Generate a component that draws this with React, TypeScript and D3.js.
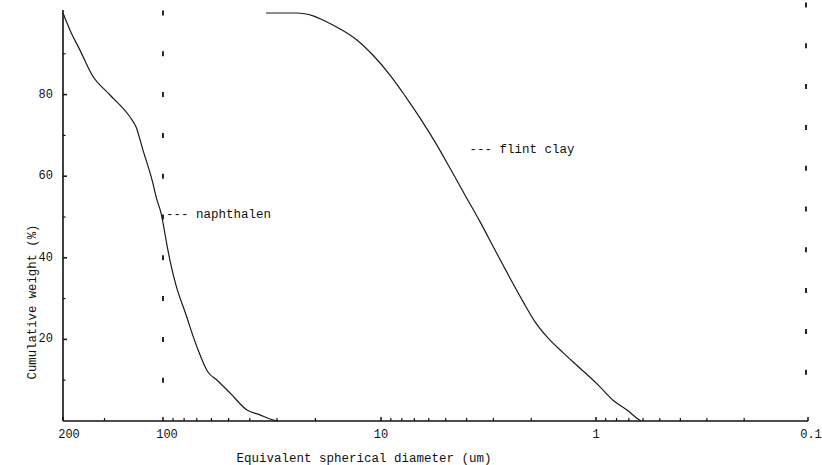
import React from "react";
import * as d3 from "d3";

// Particle size distribution (Sedigraph style): cumulative weight % vs equivalent spherical diameter
const naphthalenDiameter = [200, 190.5, 177.8, 163.5, 144.4, 125.7, 120.6, 114.9, 107.9, 104.3, 101.4, 99.0, 95.9, 91.9, 87.2, 79.2, 69.8, 62.2, 56.5, 49.3, 41.2, 35.9, 32.3, 29.7];
const naphthalenPct = [100, 95.8, 90.9, 84.8, 79.9, 74.5, 72.1, 66.4, 59.1, 54.2, 51.0, 47.3, 43.1, 38.2, 33.3, 26.7, 18.1, 12.0, 10.0, 6.9, 2.7, 1.5, 0.5, 0];

const flintDiameter = [33.7, 28.2, 24.3, 20.5, 17.7, 15.4, 12.9, 10.9, 9.08, 7.73, 6.59, 5.61, 4.78, 4.07, 3.46, 2.95, 2.51, 2.18, 1.92, 1.69, 1.42, 1.19, 0.989, 0.831, 0.706, 0.634, 0.614];
const flintPct = [100, 100, 100, 99.3, 97.8, 96.1, 93.4, 89.7, 84.8, 79.7, 74.3, 68.4, 62.0, 55.4, 48.8, 41.9, 35.0, 29.2, 24.3, 20.6, 16.7, 13.0, 9.1, 5.1, 2.5, 0.5, 0];

const xTickValues = [200, 100, 10, 1, 0.1];
const xTickLabels = ["200", "100", "10", "1", "0.1"];
const yTickValues = [20, 40, 60, 80];
const yMinorValues = [10, 30, 50, 70, 90];
const guideValues = [10, 20, 30, 40, 50, 60, 70, 80, 90, 100];
const guideDiameters = [100, 0.1];

const seriesLabels = ["--- naphthalen", "--- flint clay"];
const labelAnchors = [
  { d: 100, p: 50.5 },
  { d: 4.0, p: 66.5 },
];

const FONT = "'Liberation Mono', 'DejaVu Sans Mono', monospace";
const INK = "#111";

export default function App() {
  const x = d3
    .scaleLog()
    .domain([200, 100, 10, 1, 0.1])
    .range([63, 163, 381, 596, 808]);
  const y = d3.scaleLinear().domain([0, 100]).range([421, 13]);

  const line = d3
    .line<[number, number]>()
    .x((d) => x(d[0]))
    .y((d) => y(d[1]))
    .curve(d3.curveMonotoneX);

  const naph = naphthalenDiameter.map((d, i) => [d, naphthalenPct[i]] as [number, number]);
  const flint = flintDiameter.map((d, i) => [d, flintPct[i]] as [number, number]);

  // log minor ticks: 150 between 200 and 100, then 2..9 per decade
  const minorX: number[] = [150];
  [100, 10, 1].forEach((dec) => {
    for (let k = 2; k <= 9; k++) minorX.push((dec / 10) * k);
  });

  return (
    <svg
      width={822}
      height={465}
      style={{ position: "absolute", left: 0, top: 0, background: "#fff" }}
    >
      {/* dotted vertical guides */}
      {guideDiameters.map((gd, gi) =>
        guideValues.map((v) => (
          <line
            key={`g${gi}-${v}`}
            x1={x(gd) + (gi === 1 ? -2 : 0)}
            x2={x(gd) + (gi === 1 ? -2 : 0)}
            y1={y(v) - (gi === 1 ? 8 : 0) - 2.5}
            y2={y(v) - (gi === 1 ? 8 : 0) + 2.5}
            stroke={INK}
            strokeWidth={1.8}
          />
        ))
      )}

      {/* axes */}
      <line x1={63} x2={63} y1={10} y2={y(0)} stroke={INK} strokeWidth={1.6} />
      <line x1={63} x2={x(0.1)} y1={y(0)} y2={y(0)} stroke={INK} strokeWidth={1.6} />

      {yTickValues.map((v) => (
        <g key={`yt${v}`}>
          <line x1={63} x2={67} y1={y(v)} y2={y(v)} stroke={INK} strokeWidth={1.5} />
          <text
            x={53}
            y={y(v)}
            textAnchor="end"
            dominantBaseline="central"
            fontFamily={FONT}
            fontSize={12}
            fill={INK}
          >
            {v}
          </text>
        </g>
      ))}
      {yMinorValues.map((v) => (
        <line key={`ym${v}`} x1={63} x2={65.5} y1={y(v)} y2={y(v)} stroke={INK} strokeWidth={1.2} />
      ))}

      {xTickValues.map((v, i) => (
        <g key={`xt${v}`}>
          <line x1={x(v)} x2={x(v)} y1={y(0)} y2={y(0) - 4} stroke={INK} strokeWidth={1.5} />
          <text
            x={x(v) + (i === 0 ? 6 : i === 1 ? 4 : i === 4 ? 3 : 0)}
            y={y(0) + 17}
            textAnchor="middle"
            fontFamily={FONT}
            fontSize={12}
            fill={INK}
          >
            {xTickLabels[i]}
          </text>
        </g>
      ))}
      {minorX.map((v) => (
        <line key={`xm${v}`} x1={x(v)} x2={x(v)} y1={y(0)} y2={y(0) - 3} stroke={INK} strokeWidth={1.2} />
      ))}

      {/* axis titles */}
      <text
        x={364}
        y={462}
        textAnchor="middle"
        fontFamily={FONT}
        fontSize={12.5}
        fill={INK}
      >
        Equivalent spherical diameter (um)
      </text>
      <text
        transform="translate(33,302) rotate(-90)"
        textAnchor="middle"
        dominantBaseline="central"
        fontFamily={FONT}
        fontSize={12.3}
        fill={INK}
      >
        Cumulative weight (%)
      </text>

      {/* curves */}
      <path d={line(naph) ?? ""} fill="none" stroke="#1a1a1a" strokeWidth={1.2} />
      <path d={line(flint) ?? ""} fill="none" stroke="#1a1a1a" strokeWidth={1.2} />

      {/* series labels */}
      {seriesLabels.map((s, i) => (
        <text
          key={s}
          x={x(labelAnchors[i].d) + 3}
          y={y(labelAnchors[i].p)}
          dominantBaseline="central"
          fontFamily={FONT}
          fontSize={12.5}
          fill={INK}
          style={{ whiteSpace: "pre" }}
        >
          {s}
        </text>
      ))}
    </svg>
  );
}
